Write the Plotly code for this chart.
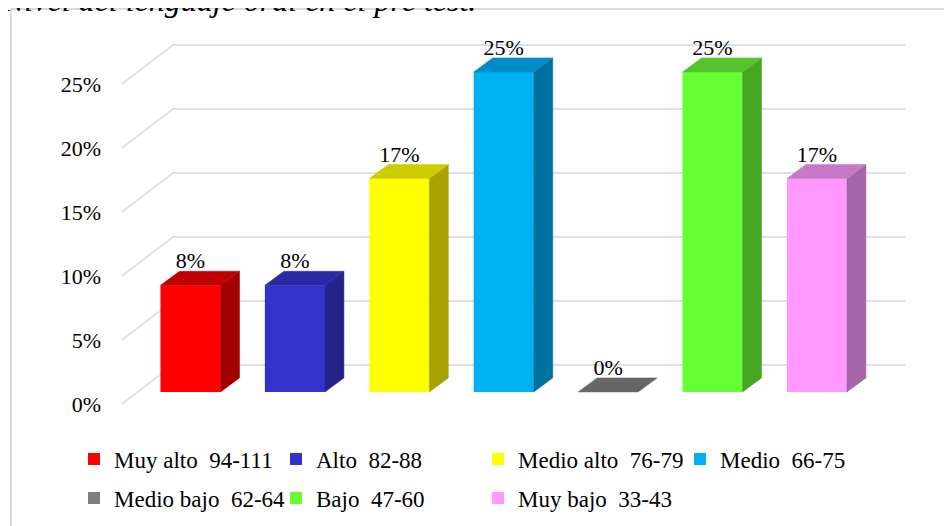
import plotly.graph_objects as go

# ---------------- data ----------------
categories = ["Muy alto\u00a0 94-111", "Alto\u00a0 82-88", "Medio alto\u00a0 76-79", "Medio\u00a0 66-75",
              "Medio bajo\u00a0 62-64", "Bajo\u00a0 47-60", "Muy bajo\u00a0 33-43"]
values = [8.33, 8.33, 16.67, 25.0, 0.0, 25.0, 16.67]
value_labels = ["8%", "8%", "17%", "25%", "0%", "25%", "17%"]
front_colors = ["#FF0000", "#3333CC", "#FFFF00", "#00B0F0", "#7F7F7F", "#66FF33", "#FF99FF"]
side_colors = ["#A00000", "#23238A", "#A8A200", "#00709E", "#5A5A5A", "#45A622", "#A466A6"]
top_colors = ["#C00000", "#2A2AA8", "#CCCC00", "#008CC4", "#666666", "#55C42C", "#C679C6"]
y_ticks = [0, 5, 10, 15, 20, 25]
y_tick_labels = ["0%", "5%", "10%", "15%", "20%", "25%"]
title_text = "Nivel del lenguaje oral en el pre test."

# ---------------- geometry (axis units) ----------------
BAR_W = 0.575
BASE = 0.94
DX = 0.182
DY = 1.1
LABEL_SHIFT = -0.2
GRID_FRONT_X = -0.657
GRID_BACK_X = -0.168
GRID_END_X = 6.846
GRID_DY = 3.05

W, H = 952, 526
# the page body adds an 8px offset; figure pixels = page pixels - 8
L, R, T, B = 102, 922, 12, 407


def pxx(p):
    return (p - L) / (R - L)


def pxy(p):
    return (B - p) / (B - T)


FONT = "Liberation Serif"

fig = go.Figure()

# gridlines (floor diagonals + back wall lines) drawn below the data
for t in y_ticks:
    fig.add_shape(type="line", xref="x", yref="y", layer="below",
                  x0=GRID_FRONT_X, y0=t, x1=GRID_BACK_X, y1=t + GRID_DY,
                  line=dict(color="#DDE1E8", width=2))
    fig.add_shape(type="line", xref="x", yref="y", layer="below",
                  x0=GRID_BACK_X, y0=t + GRID_DY, x1=GRID_END_X, y1=t + GRID_DY,
                  line=dict(color="#DDE1E8", width=2))

# bars: front faces (legend entries)
for i, (cat, v) in enumerate(zip(categories, values)):
    fig.add_trace(go.Bar(x=[i], y=[v], base=BASE, width=BAR_W, name=cat,
                         marker=dict(color=front_colors[i], line=dict(width=0)),
                         legend="legend" if i < 4 else "legend2",
                         hoverinfo="skip"))

# side and top faces
for i, v in enumerate(values):
    x0, x1 = i - BAR_W / 2, i + BAR_W / 2
    top = BASE + v
    if v > 0:
        fig.add_trace(go.Scatter(x=[x1, x1 + DX, x1 + DX, x1, x1],
                                 y=[BASE, BASE + DY, top + DY, top, BASE],
                                 fill="toself", fillcolor=side_colors[i], mode="lines",
                                 line=dict(color=side_colors[i], width=0.5),
                                 showlegend=False, hoverinfo="skip"))
    fig.add_trace(go.Scatter(x=[x0, x1, x1 + DX, x0 + DX, x0],
                             y=[top, top, top + DY, top + DY, top],
                             fill="toself", fillcolor=top_colors[i], mode="lines",
                             line=dict(color=top_colors[i], width=0.5),
                             showlegend=False, hoverinfo="skip"))

# data labels
fig.add_trace(go.Scatter(x=list(range(len(values))), y=[BASE + v + DY + LABEL_SHIFT for v in values],
                         mode="text", text=value_labels, textposition="top center",
                         textfont=dict(family=FONT, size=22, color="#000000"),
                         showlegend=False, hoverinfo="skip"))

# frame
fig.add_shape(type="line", xref="paper", yref="paper", x0=pxx(3), x1=pxx(3), y0=pxy(1), y1=pxy(540),
              line=dict(color="#D6DCE5", width=2))
fig.add_shape(type="line", xref="paper", yref="paper", x0=pxx(3), x1=pxx(960), y0=pxy(1), y1=pxy(1),
              line=dict(color="#D6DCE5", width=2))

# cut-off title
fig.add_annotation(text=title_text, xref="paper", yref="paper", x=pxx(-8), y=pxy(12),
                   xanchor="left", yanchor="bottom", showarrow=False,
                   font=dict(family=FONT, size=32, color="#000000", style="italic"))

leg_common = dict(orientation="h", xanchor="left", yanchor="middle",
                  entrywidth=157, entrywidthmode="pixels",
                  font=dict(family=FONT, size=23, color="#000000"),
                  bgcolor="rgba(0,0,0,0)", itemclick=False, itemdoubleclick=False,
                  tracegroupgap=0)

fig.update_layout(
    width=W, height=H,
    margin=dict(l=L, r=W - R, t=T, b=H - B, autoexpand=False),
    paper_bgcolor="#FFFFFF", plot_bgcolor="#FFFFFF",
    barmode="overlay",
    showlegend=True,
    legend=dict(x=pxx(66), y=pxy(451), **leg_common),
    legend2=dict(x=pxx(66), y=pxy(490), **leg_common),
    xaxis=dict(range=[-0.771, 7.083], visible=False, fixedrange=True),
    yaxis=dict(range=[-0.859, 30.0], tickvals=y_ticks, ticktext=y_tick_labels,
               showgrid=False, zeroline=False, showline=False, ticks="",
               ticklabelstandoff=8,
               tickfont=dict(family=FONT, size=22, color="#000000"), fixedrange=True),
)

fig.write_html("out.html")
